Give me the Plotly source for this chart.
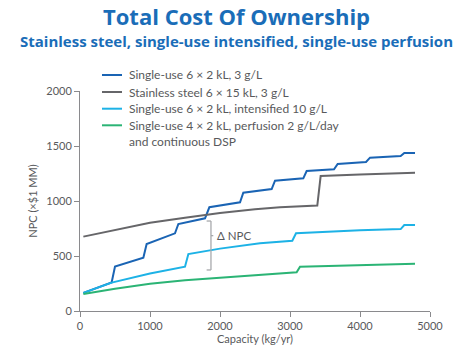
import plotly.graph_objects as go

# ---- data ----
su3_x = [48, 452, 500, 905, 952, 1357, 1405, 1786, 1848, 2286, 2333, 2738, 2786, 3190, 3238, 3629, 3681, 4086, 4143, 4581, 4633, 4786]
su3_y = [165, 260, 405, 485, 609, 706, 791, 843, 943, 988, 1076, 1109, 1185, 1206, 1273, 1288, 1336, 1355, 1394, 1409, 1436, 1436]

ss_x = [48, 500, 1000, 1500, 2000, 2500, 2857, 3390, 3438, 4000, 4786]
ss_y = [676, 736, 803, 848, 891, 924, 943, 958, 1227, 1242, 1257]

int_x = [48, 452, 1000, 1500, 1548, 2000, 2571, 3033, 3086, 3500, 4000, 4581, 4633, 4786]
int_y = [165, 258, 340, 403, 518, 567, 615, 639, 706, 722, 735, 745, 782, 782]

perf_x = [48, 500, 1000, 1500, 2000, 2500, 3095, 3143, 4000, 4786]
perf_y = [155, 203, 248, 280, 303, 327, 352, 403, 418, 430]

names = [
    "Single-use 6 × 2 kL, 3 g/L",
    "Stainless steel 6 × 15 kL, 3 g/L",
    "Single-use 6 × 2 kL, intensified 10 g/L",
    "Single-use 4 × 2 kL, perfusion 2 g/L/day<br>and continuous DSP",
]
colors = ["#1a64b4", "#666669", "#1db2e6", "#2bb475"]

x_ticks = [0, 1000, 2000, 3000, 4000, 5000]
y_ticks = [0, 500, 1000, 1500, 2000]

# Delta NPC bracket (data units)
br_x = 1871
br_top = 818
br_bot = 373
br_mid = 685

FONT = "Lato"
TFONT = "Open Sans"
GREY = "#58595b"

# plot-area geometry (px) for paper-coordinate placement of legend/titles
L, R, T, B, W, H = 80, 30, 91, 40, 460, 351
PW, PH = W - L - R, H - T - B


def px(xp):
    return (xp - L) / PW


def py(yp):
    return (H - B - yp) / PH


fig = go.Figure()
for xs, ys, nm, c in zip([su3_x, ss_x, int_x, perf_x], [su3_y, ss_y, int_y, perf_y], names, colors):
    fig.add_trace(go.Scatter(x=xs, y=ys, mode="lines", name=nm,
                             line=dict(color=c, width=2), showlegend=False))

# manual legend (short 20px keys like the reference)
leg_rows = [75, 92, 108.7, 125.3]
for nm, c, ry in zip(names, colors, leg_rows):
    fig.add_shape(type="line", xref="paper", yref="paper", x0=px(102), x1=px(122),
                  y0=py(ry), y1=py(ry), line=dict(color=c, width=2))
    fig.add_annotation(xref="paper", yref="paper", x=px(127), y=py(ry - 9.5), text=nm,
                       showarrow=False, xanchor="left", yanchor="top", align="left",
                       font=dict(family=FONT, size=12, color=GREY))

# bracket
bc = "#a7a9ac"
fig.add_shape(type="line", x0=br_x, x1=br_x, y0=br_bot, y1=br_top, line=dict(color=bc, width=1.3))
fig.add_shape(type="line", x0=br_x - 62, x1=br_x, y0=br_top, y1=br_top, line=dict(color=bc, width=1.3))
fig.add_shape(type="line", x0=br_x - 62, x1=br_x, y0=br_bot, y1=br_bot, line=dict(color=bc, width=1.3))
fig.add_shape(type="line", x0=br_x, x1=br_x + 33, y0=br_mid, y1=br_mid, line=dict(color=bc, width=1.3))
fig.add_annotation(x=br_x + 60, y=br_mid, text="Δ NPC", showarrow=False, xanchor="left",
                   yanchor="middle", font=dict(family=FONT, size=11.5, color=GREY))

# titles
fig.add_annotation(xref="paper", yref="paper", x=px(236), y=py(16),
                   text="<b>Total Cost Of Ownership</b>", showarrow=False,
                   xanchor="center", yanchor="middle",
                   font=dict(family=TFONT, size=22, color="#1a6db8"))
fig.add_annotation(xref="paper", yref="paper", x=px(236), y=py(41),
                   text="<b>Stainless steel, single-use intensified, single-use perfusion</b>", showarrow=False,
                   xanchor="center", yanchor="middle",
                   font=dict(family=TFONT, size=15, color="#1a6db8"))

axis_common = dict(showline=True, linecolor="#8a8a8d", linewidth=1, ticks="outside",
                   ticklen=5, tickcolor="#8a8a8d", showgrid=False, zeroline=False,
                   automargin=False, tickfont=dict(family=FONT, size=11, color=GREY))
fig.update_xaxes(range=[0, 5000], tickvals=x_ticks, **axis_common,
                 title=dict(text="Capacity (kg/yr)", font=dict(family=FONT, size=11, color=GREY), standoff=0))
fig.update_yaxes(range=[0, 2000], tickvals=y_ticks, **axis_common,
                 title=dict(text="NPC (×$1 MM)", font=dict(family=FONT, size=11, color=GREY), standoff=6))

fig.update_layout(
    width=W, height=H,
    margin=dict(l=L, r=R, t=T, b=B),
    paper_bgcolor="white", plot_bgcolor="white",
    showlegend=False,
    font=dict(family=FONT),
)

fig.write_html("out.html")
